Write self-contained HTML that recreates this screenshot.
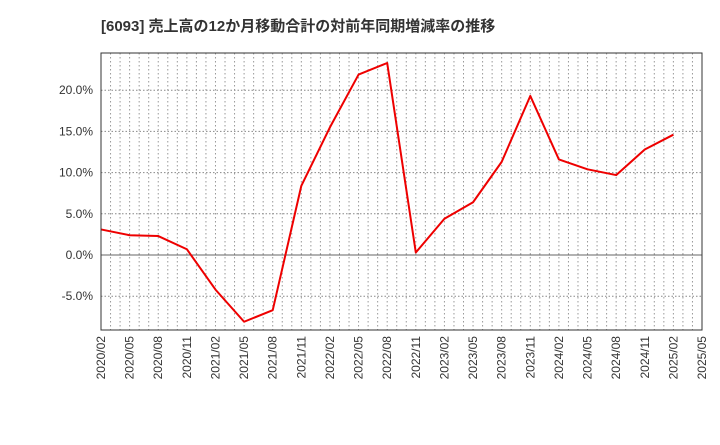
<!DOCTYPE html>
<html><head><meta charset="utf-8"><style>
body{margin:0;background:#fff;font-family:"Liberation Sans","Noto Sans CJK JP",sans-serif;}
</style></head><body>
<svg width="720" height="440" xmlns="http://www.w3.org/2000/svg">
<text x="101" y="31" font-size="15" font-weight="bold" fill="#333" font-family="Liberation Sans, Noto Sans CJK JP, sans-serif">[6093]  売上高の12か月移動合計の対前年同期増減率の推移</text>
<g id="grid"></g><g id="axes"></g><g id="series"></g>
<rect x="101" y="53" width="601" height="277" fill="none" stroke="#333" stroke-width="1"/>
</svg>
<script>
const categories=["2020/02","2020/05","2020/08","2020/11","2021/02","2021/05","2021/08","2021/11","2022/02","2022/05","2022/08","2022/11","2023/02","2023/05","2023/08","2023/11","2024/02","2024/05","2024/08","2024/11","2025/02"];
const values=[3.1,2.4,2.3,0.7,-4.2,-8.1,-6.7,8.4,15.5,21.9,23.3,0.3,4.4,6.4,11.3,19.3,11.6,10.4,9.7,12.8,14.6];
const xTickLabels=["2020/02","2020/05","2020/08","2020/11","2021/02","2021/05","2021/08","2021/11","2022/02","2022/05","2022/08","2022/11","2023/02","2023/05","2023/08","2023/11","2024/02","2024/05","2024/08","2024/11","2025/02","2025/05"];
const yTicks=[-5,0,5,10,15,20];
const NS="http://www.w3.org/2000/svg";
const L=101,R=702,T=53,B=330;
const x=i=>L+i*(R-L)/(xTickLabels.length-1);
const y=v=>255-v*41.2/5;
function mk(t,a,p){const e=document.createElementNS(NS,t);for(const k in a)e.setAttribute(k,a[k]);p.appendChild(e);return e;}
const g=document.getElementById('grid'),ax=document.getElementById('axes'),s=document.getElementById('series');
const nM=(xTickLabels.length-1)*3;
for(let m=1;m<nM;m++){const xx=L+m*(R-L)/nM;
const ln=mk('line',{x1:xx,x2:xx,y1:T,y2:B,stroke:'#999','stroke-dasharray':'1.5,2.5','stroke-width':1},g);

}
yTicks.forEach(v=>{const yy=y(v);
const ln=mk('line',{x1:L,x2:R,y1:yy,y2:yy,stroke:v===0?'#666':'#888','stroke-dasharray':v===0?'none':'1.5,2','stroke-width':1},g);


const t=mk('text',{x:L-8,y:yy+4,'text-anchor':'end','font-size':12,fill:'#333'},ax);t.textContent=v.toFixed(1)+'%';

});
xTickLabels.forEach((lab,i)=>{const xx=x(i);
const t=mk('text',{x:xx+4,y:B+6,'text-anchor':'end','font-size':12,fill:'#333',transform:`rotate(-90 ${xx+4} ${B+6})`},ax);t.textContent=lab;

});
const pts=values.map((v,i)=>x(i)+','+y(v)).join(' ');
const pl=mk('polyline',{points:pts,fill:'none',stroke:'#e00','stroke-width':2,'stroke-linejoin':'round'},s);


</script>
</body></html>
